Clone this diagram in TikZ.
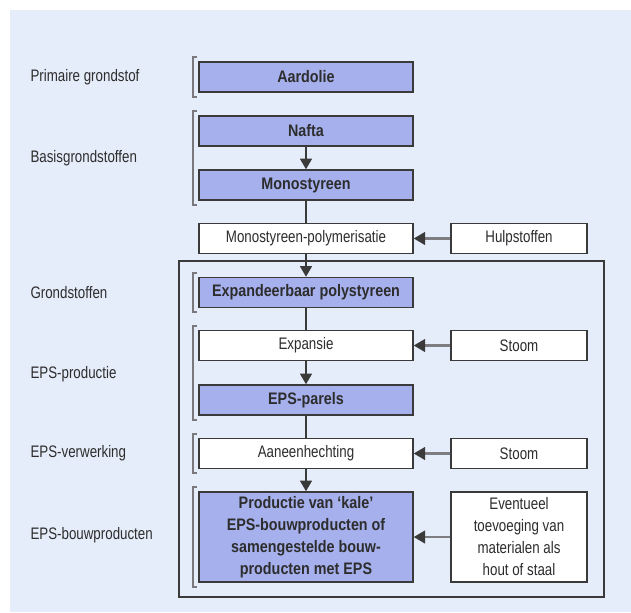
\documentclass[tikz,border=0pt]{standalone}
\usepackage{fontspec}
\setmainfont{Liberation Sans}[FakeStretch=0.8, BoldFeatures={FakeStretch=0.86}]
\usetikzlibrary{arrows.meta}

\definecolor{panel}{RGB}{230,237,250}
\definecolor{stofblauw}{RGB}{166,176,236}
\definecolor{rand}{RGB}{58,58,58}
\definecolor{tekst}{RGB}{45,45,45}
\definecolor{haak}{RGB}{120,120,125}
\definecolor{toevoer}{RGB}{125,125,130}

\tikzset{every picture/.style={line width=0.75pt},
  stap/.style={draw=rand, line width=1.1pt, minimum height=22.5pt, inner sep=1pt,
    text=tekst, font=\fontsize{12.5}{16.5}\selectfont, align=center},
  stof/.style={stap, fill=stofblauw, minimum width=160.5pt, font=\fontsize{12.5}{16.5}\selectfont\bfseries},
  proces/.style={stap, fill=white, minimum width=160.5pt},
  extra/.style={stap, fill=white, minimum width=102pt},
  fase/.style={anchor=west, inner sep=0pt, text=tekst, font=\fontsize{12.5}{16.5}\selectfont},
  pijl/.style={draw=rand, line width=1.1pt, -{Triangle[length=8pt,width=9pt]}},
  lijn/.style={draw=rand, line width=1.1pt},
  zijpijl/.style={draw=toevoer, line width=1.6pt, -{Triangle[length=8.5pt,width=9.5pt,color=rand]}},
  haakje/.style={draw=haak, line width=0.9pt}
}

\begin{document}
\begin{tikzpicture}[x=0.75pt,y=0.75pt,yscale=-1,xscale=1]
\useasboundingbox (0,0) rectangle (631,612);

%Shape: Rectangle (achtergrond)
\fill [panel] (10,10) rectangle (631,612);
%Shape: Rectangle (kader EPS)
\draw [draw=rand, line width=1.1pt] (179,261) rectangle (604,597);

% Linker kolom
\node [stof] (aardolie) at (306,77) {Aardolie};
\node [stof] (nafta) at (306,131) {Nafta};
\node [stof] (monostyreen) at (306,185) {Monostyreen};
\node [proces] (polymerisatie) at (306,238.5) {Monostyreen-polymerisatie};
\node [stof] (eps) at (306,292.5) {Expandeerbaar polystyreen};
\node [proces] (expansie) at (306,345.5) {Expansie};
\node [stof] (parels) at (306,400) {EPS-parels};
\node [proces] (aaneen) at (306,453.5) {Aaneenhechting};
\node [stof, minimum height=67.5pt] (producten) at (306,537) {Productie van `kale'\\EPS-bouwproducten of\\samengestelde bouw-\\producten met EPS};

% Rechter kolom
\node [extra] (hulp) at (519,238.5) {Hulpstoffen};
\node [extra] (stoomA) at (519,345.5) {Stoom};
\node [extra] (stoomB) at (519,453.5) {Stoom};
\node [extra, minimum height=67.5pt] (materialen) at (519,537) {Eventueel\\toevoeging van\\materialen als\\hout of staal};

% Text Node
\node [fase] (f1) at (30,77) {Primaire grondstof};
\node [fase] (f2) at (30,158) {Basisgrondstoffen};
\node [fase] (f3) at (30,293) {Grondstoffen};
\node [fase] (f4) at (30,374) {EPS-productie};
\node [fase] (f5) at (30,453) {EPS-verwerking};
\node [fase] (f6) at (30,535) {EPS-bouwproducten};

%Straight Lines
\draw [pijl] (nafta) -- (monostyreen);
\draw [lijn] (monostyreen) -- (polymerisatie);
\draw [pijl] (polymerisatie) -- (eps);
\draw [lijn] (eps) -- (expansie);
\draw [pijl] (expansie) -- (parels);
\draw [lijn] (parels) -- (aaneen);
\draw [pijl] (aaneen) -- (producten);

\draw [zijpijl] (hulp) -- (polymerisatie);
\draw [zijpijl] (stoomA) -- (expansie);
\draw [zijpijl] (stoomB) -- (aaneen);
\draw [zijpijl] (materialen) -- (producten);

%Shape: Brackets
\draw [haakje] (197,57) -- (193,57) -- (193,97) -- (197,97);
\draw [haakje] (197,111) -- (193,111) -- (193,205) -- (197,205);
\draw [haakje] (197,273) -- (193,273) -- (193,312) -- (197,312);
\draw [haakje] (197,326) -- (193,326) -- (193,420) -- (197,420);
\draw [haakje] (197,434) -- (193,434) -- (193,473) -- (197,473);
\draw [haakje] (197,487) -- (193,487) -- (193,587) -- (197,587);

\end{tikzpicture}
\end{document}
